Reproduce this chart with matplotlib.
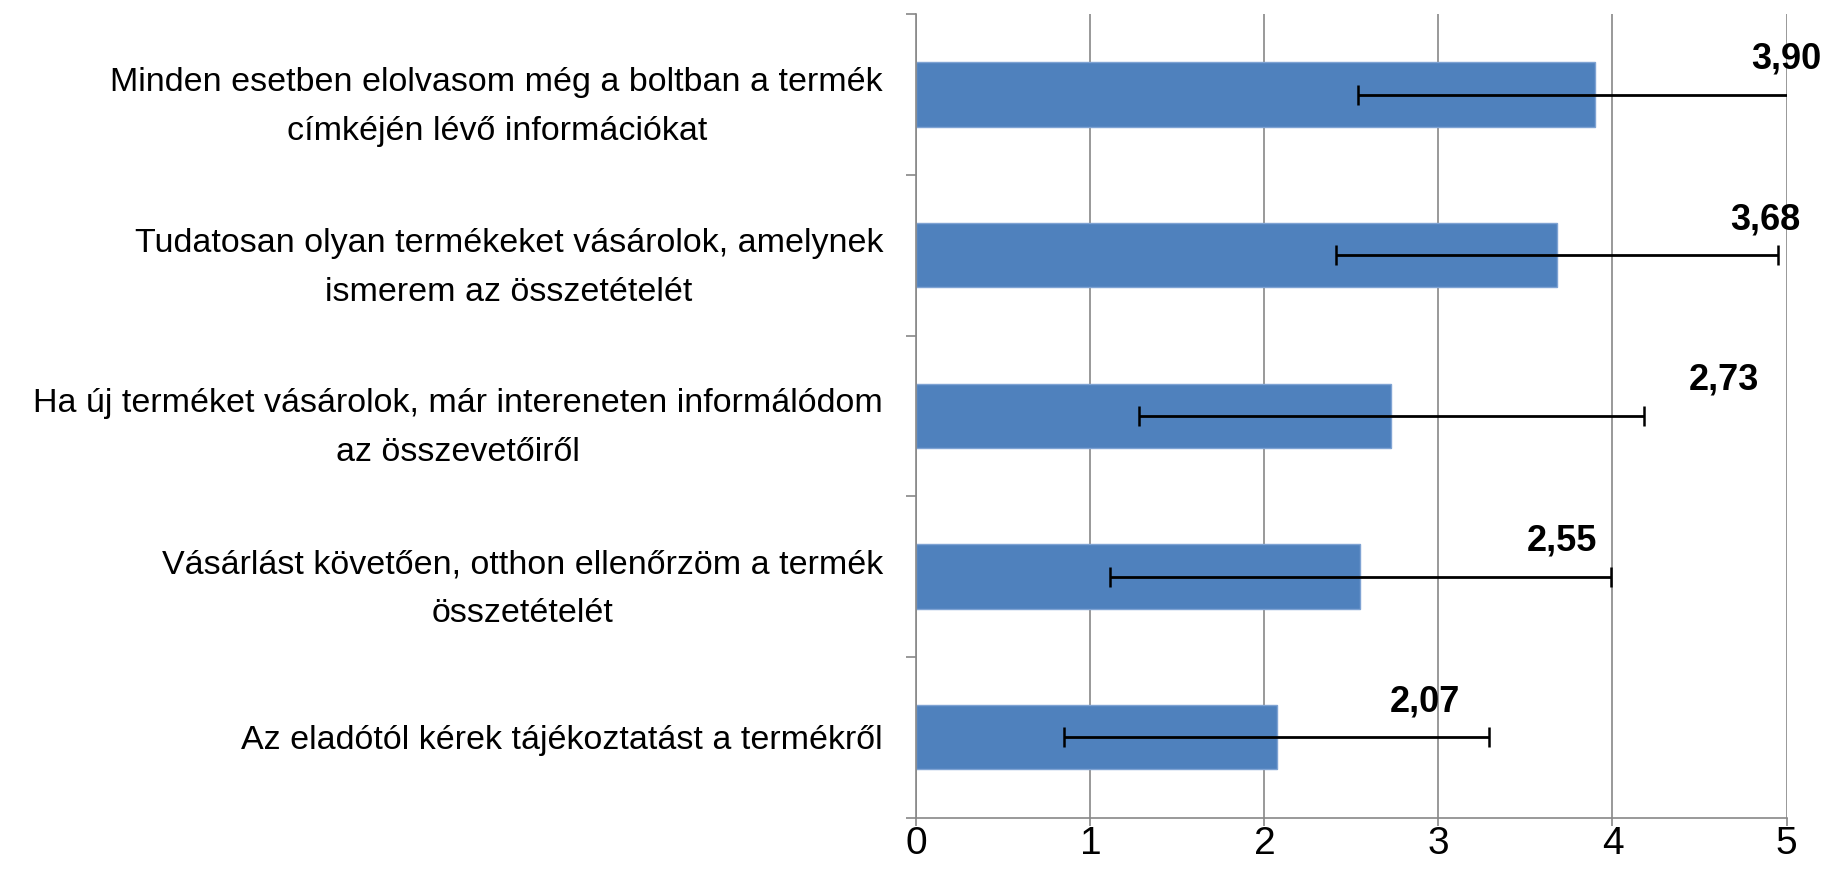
import matplotlib
matplotlib.use("Agg")
import matplotlib.pyplot as plt
import matplotlib.transforms as mtransforms
import numpy as np

# ---- data ----
categories = [
    "Minden esetben elolvasom még a boltban a termék\ncímkéjén lévő információkat",
    "Tudatosan olyan termékeket vásárolok, amelynek\nismerem az összetételét",
    "Ha új terméket vásárolok, már intereneten informálódom\naz összevetőiről",
    "Vásárlást követően, otthon ellenőrzöm a termék\nösszetételét",
    "Az eladótól kérek tájékoztatást a termékről",
]
means = [3.90, 3.68, 2.73, 2.55, 2.07]
errors = [1.36, 1.27, 1.45, 1.44, 1.22]
value_labels = ["3,90", "3,68", "2,73", "2,55", "2,07"]
x_ticks = [0, 1, 2, 3, 4, 5]

# ---- layout (label positions in data units) ----
label_x = [5.0, 4.88, 4.64, 3.71, 2.92]
label_dy = -0.22

plt.rcParams['font.family'] = ['Liberation Sans', 'DejaVu Sans']

fig = plt.figure(figsize=(18.31, 8.86), dpi=100)
ax = fig.add_axes([0.5005, 0.0773, 0.9757 - 0.5005, 0.984 - 0.0773])

n = len(categories)
ypos = np.arange(n)
ax.barh(ypos, means, height=0.4, color="#4F81BD", edgecolor="#7FA3D3",
        linewidth=1, zorder=2)
ax.errorbar(means, ypos, xerr=errors, fmt='none', ecolor='black',
            elinewidth=2.0, capsize=7, capthick=1.8, zorder=3)

for i in range(n):
    ax.text(label_x[i], ypos[i] + label_dy, value_labels[i], ha='center',
            va='center', fontsize=26, fontweight='bold', color='black',
            clip_on=False, zorder=4)

ax.set_xlim(0, 5)
ax.set_ylim(n - 0.5, -0.5)
ax.set_xticks(x_ticks)
ax.set_xticklabels([str(t) for t in x_ticks], fontsize=28)
ax.set_yticks(ypos)
ax.set_yticklabels(categories, fontsize=24.5, multialignment='center',
                   linespacing=1.75)
shift = mtransforms.ScaledTranslation(0, 4 / 72, fig.dpi_scale_trans)
for lbl in ax.get_yticklabels():
    lbl.set_transform(lbl.get_transform() + shift)
ax.set_yticks(np.arange(-0.5, n, 1.0), minor=True)
ax.tick_params(axis='y', which='major', length=0, pad=24)
ax.tick_params(axis='y', which='minor', length=7, width=1.2, color='#888888',
               direction='out')
ax.tick_params(axis='x', length=6, width=1.2, color='#888888', pad=0,
               direction='out')

ax.grid(axis='x', color='#888888', linewidth=1.2, zorder=0)
ax.set_axisbelow(True)
for s in ['top', 'right']:
    ax.spines[s].set_visible(False)
for s in ['left', 'bottom']:
    ax.spines[s].set_color('#888888')
    ax.spines[s].set_linewidth(1.2)

fig.savefig("out.png", dpi=100, facecolor='white')
